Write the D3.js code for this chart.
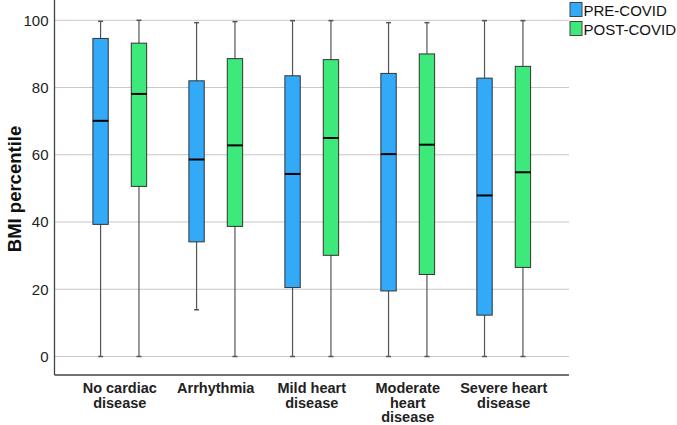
<!DOCTYPE html>
<html>
<head>
<meta charset="utf-8">
<script src="https://cdn.jsdelivr.net/npm/d3@7"></script>
<style>
  body { margin: 0; background: #fff; }
  text { font-family: Arial, "Liberation Sans", sans-serif; }
</style>
</head>
<body>
<svg width="677" height="425"></svg>
<script>
// categories and series
var categories = ["No cardiac disease", "Arrhythmia", "Mild heart disease", "Moderate heart disease", "Severe heart disease"];
var catLines = [["No cardiac", "disease"], ["Arrhythmia"], ["Mild heart", "disease"], ["Moderate", "heart", "disease"], ["Severe heart", "disease"]];
var groups = ["PRE-COVID", "POST-COVID"];
var colors = ["#33aaf7", "#3ee97b"];

// [min, q1, median, q3, max] per category
var preCovid = [
    [0, 39.3, 70.1, 94.6, 99.7],
    [13.9, 34.1, 58.6, 82.0, 99.3],
    [0, 20.5, 54.3, 83.5, 99.9],
    [0, 19.5, 60.2, 84.2, 99.3],
    [0, 12.3, 47.9, 82.8, 99.9]
];
var postCovid = [
    [0, 50.6, 78.1, 93.2, 100],
    [0, 38.7, 62.8, 88.6, 99.6],
    [0, 30.1, 65.0, 88.3, 99.9],
    [0, 24.4, 63.0, 90.0, 99.3],
    [0, 26.5, 54.8, 86.3, 99.9]
];
var yTicks = [0, 20, 40, 60, 80, 100];

var svg = d3.select("svg");
var pLeft = 54.5, pRight = 569, pTop = 20.3, pBottom = 356.5, axisY = 375;

var x = d3.scaleBand().domain(categories).range([pLeft, pRight]).paddingInner(0).paddingOuter(0.18);
var xs = d3.scaleBand().domain(groups).range([0, x.bandwidth()]).paddingInner(0.6).paddingOuter(0.55);
var y = d3.scaleLinear().domain([0, 100]).range([pBottom, pTop]);

// grid
svg.append("g").selectAll("line").data(yTicks).enter().append("line")
    .attr("x1", pLeft).attr("x2", pRight)
    .attr("y1", d => y(d)).attr("y2", d => y(d))
    .attr("stroke", "#c8c8c8").attr("stroke-width", 1);

// y axis
var yAxis = svg.append("g").attr("transform", "translate(" + pLeft + ",0)")
    .call(d3.axisLeft(y).tickValues(yTicks).tickSize(0).tickPadding(6));
yAxis.select(".domain").remove();
yAxis.selectAll("text").attr("font-size", 15).attr("fill", "#222")
    .attr("font-family", "Arial, 'Liberation Sans', sans-serif");
svg.append("line").attr("x1", pLeft).attr("x2", pLeft).attr("y1", 0).attr("y2", axisY)
    .attr("stroke", "#444").attr("stroke-width", 1.3);
svg.append("line").attr("x1", pLeft).attr("x2", pRight).attr("y1", axisY).attr("y2", axisY)
    .attr("stroke", "#444").attr("stroke-width", 1.3);

svg.append("text").attr("transform", "translate(21,189) rotate(-90)")
    .attr("text-anchor", "middle").attr("font-size", 18.5).attr("font-weight", "bold")
    .attr("fill", "#111").text("BMI percentile");

// x labels
catLines.forEach(function (lines, i) {
    var t = svg.append("text").attr("text-anchor", "middle")
        .attr("font-size", 14.5).attr("font-weight", "bold").attr("fill", "#222")
        .attr("x", x(categories[i]) + x.bandwidth() / 2).attr("y", 393);
    lines.forEach(function (l, j) {
        t.append("tspan").attr("x", x(categories[i]) + x.bandwidth() / 2)
            .attr("dy", j === 0 ? 0 : 14.5).text(l);
    });
});

// boxes
var series = [preCovid, postCovid];
series.forEach(function (data, g) {
    var gg = svg.append("g");
    data.forEach(function (d, i) {
        var x0 = x(categories[i]) + xs(groups[g]);
        var w = xs.bandwidth();
        var cx = x0 + w / 2;
        gg.append("line").attr("x1", cx).attr("x2", cx)
            .attr("y1", y(d[0])).attr("y2", y(d[4]))
            .attr("stroke", "#555").attr("stroke-width", 1.2);
        [d[0], d[4]].forEach(function (v) {
            gg.append("line").attr("x1", cx - 2.5).attr("x2", cx + 2.5)
                .attr("y1", y(v)).attr("y2", y(v))
                .attr("stroke", "#555").attr("stroke-width", 1.5);
        });
        gg.append("rect").attr("x", x0).attr("width", w)
            .attr("y", y(d[3])).attr("height", y(d[1]) - y(d[3]))
            .attr("fill", colors[g]).attr("stroke", "#333").attr("stroke-width", 1);
        gg.append("line").attr("x1", x0).attr("x2", x0 + w)
            .attr("y1", y(d[2])).attr("y2", y(d[2]))
            .attr("stroke", "#000").attr("stroke-width", 2);
    });
});

// legend
var leg = svg.append("g").attr("transform", "translate(570,2.5)");
groups.forEach(function (name, i) {
    leg.append("rect").attr("x", 0).attr("y", i * 19).attr("width", 12).attr("height", 14)
        .attr("fill", colors[i]).attr("stroke", "#444").attr("stroke-width", 1);
    leg.append("text").attr("x", 13.5).attr("y", i * 19 + 13).attr("font-size", 15)
        .attr("fill", "#111").text(name);
});
</script>
</body>
</html>
